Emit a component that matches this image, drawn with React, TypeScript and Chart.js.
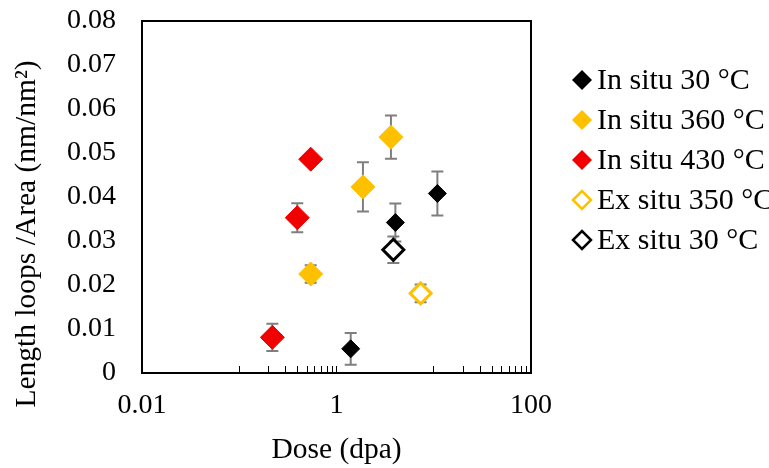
import React, { useEffect, useRef } from 'react';
import { Chart, registerables } from 'chart.js';

Chart.register(...registerables);

// ---- Data ----
const seriesLabels = ['In situ 30 °C', 'In situ 360 °C', 'In situ 430 °C', 'Ex situ 350 °C', 'Ex situ 30 °C'];

const inSitu30Dose = [1.4, 4.03, 10.9];
const inSitu30Value = [0.0055, 0.0342, 0.0408];
const inSitu30Err = [0.0036, 0.0043, 0.005];

const inSitu360Dose = [0.543, 1.87, 3.63];
const inSitu360Value = [0.0225, 0.0423, 0.0536];
const inSitu360Err = [0.002, 0.0056, 0.0049];

const inSitu430Dose = [0.219, 0.395, 0.543];
const inSitu430Value = [0.0081, 0.0353, 0.0486];
const inSitu430Err = [0.0031, 0.0033, 0];

const exSitu350Dose = [7.33];
const exSitu350Value = [0.0181];
const exSitu350Err = [0.002];

const exSitu30Dose = [3.84];
const exSitu30Value = [0.028];
const exSitu30Err = [0.003];

const xTickValues = [0.01, 0.1, 0.2, 0.3, 0.4, 0.5, 0.6, 0.7, 0.8, 0.9, 1, 10, 20, 30, 40, 50, 60, 70, 80, 90, 100];
const xLabelledValues = [0.01, 1, 100];
const xTickLabels = ['0.01', '1', '100'];
const yMin = 0;
const yMax = 0.08;
const yStep = 0.01;

const xTitle = 'Dose (dpa)';
const yTitle = 'Length loops /Area (nm/nm²)';

const FONT = '"Liberation Serif", "Times New Roman", serif';
const YELLOW = '#FFC000';
const RED = '#F00000';
const BLACK = '#000000';
const ERR = '#7F7F7F';

function pts(xs: number[], ys: number[]) {
  return xs.map((x, i) => ({ x, y: ys[i] }));
}

const errorBarPlugin = {
  id: 'errorBars',
  beforeDatasetsDraw(chart: any) {
    const { ctx, chartArea, scales } = chart;
    const xs = scales.x;
    const ys = scales.y;
    ctx.save();
    // frame
    ctx.strokeStyle = '#000';
    ctx.lineWidth = 2;
    ctx.strokeRect(chartArea.left, chartArea.top, chartArea.right - chartArea.left, chartArea.bottom - chartArea.top);
    // error bars
    ctx.strokeStyle = ERR;
    ctx.lineWidth = 2;
    chart.data.datasets.forEach((ds: any) => {
      const errs: number[] = ds.errors || [];
      ds.data.forEach((p: any, i: number) => {
        const e = errs[i] || 0;
        if (!e) return;
        const px = xs.getPixelForValue(p.x);
        const top = ys.getPixelForValue(p.y + e);
        const bot = ys.getPixelForValue(p.y - e);
        ctx.beginPath();
        ctx.moveTo(px, top);
        ctx.lineTo(px, bot);
        ctx.moveTo(px - 6, top);
        ctx.lineTo(px + 6, top);
        ctx.moveTo(px - 6, bot);
        ctx.lineTo(px + 6, bot);
        ctx.stroke();
      });
    });
    ctx.restore();
  },
};

const legendAndTitlePlugin = {
  id: 'customLegend',
  afterDraw(chart: any) {
    const { ctx } = chart;
    ctx.save();
    // y axis title
    ctx.translate(27, 234);
    ctx.rotate(-Math.PI / 2);
    ctx.font = `29.5px ${FONT}`;
    ctx.fillStyle = '#000';
    ctx.textAlign = 'center';
    ctx.textBaseline = 'middle';
    ctx.fillText(yTitle, 0, 0);
    ctx.restore();

    ctx.save();
    ctx.font = `30px ${FONT}`;
    ctx.textAlign = 'left';
    ctx.textBaseline = 'middle';
    chart.data.datasets.forEach((ds: any, i: number) => {
      const cy = 80 + i * 40;
      const cx = 582;
      const open = ds.backgroundColor === '#FFFFFF';
      const r = open ? 9 : 10;
      ctx.beginPath();
      ctx.moveTo(cx - r, cy);
      ctx.lineTo(cx, cy - r);
      ctx.lineTo(cx + r, cy);
      ctx.lineTo(cx, cy + r);
      ctx.closePath();
      if (open) {
        ctx.fillStyle = '#FFFFFF';
        ctx.fill();
        ctx.strokeStyle = ds.borderColor;
        ctx.lineWidth = 2.5;
        ctx.stroke();
      } else {
        ctx.fillStyle = ds.backgroundColor;
        ctx.fill();
      }
      ctx.fillStyle = '#000';
      ctx.fillText(ds.label, 597, cy + 1);
    });
    ctx.restore();
  },
};

export default function App() {
  const canvasRef = useRef<HTMLCanvasElement | null>(null);

  useEffect(() => {
    if (!canvasRef.current) return;
    Chart.defaults.font.family = FONT;
    Chart.defaults.font.size = 28;
    Chart.defaults.color = '#000';

    const chart = new Chart(canvasRef.current, {
      type: 'scatter',
      data: {
        datasets: [
          {
            label: seriesLabels[0],
            data: pts(inSitu30Dose, inSitu30Value),
            errors: inSitu30Err,
            backgroundColor: BLACK,
            borderColor: BLACK,
            borderWidth: 1,
            pointStyle: 'rectRot',
            pointRadius: 9,
          } as any,
          {
            label: seriesLabels[1],
            data: pts(inSitu360Dose, inSitu360Value),
            errors: inSitu360Err,
            backgroundColor: YELLOW,
            borderColor: YELLOW,
            borderWidth: 1,
            pointStyle: 'rectRot',
            pointRadius: 12,
          } as any,
          {
            label: seriesLabels[2],
            data: pts(inSitu430Dose, inSitu430Value),
            errors: inSitu430Err,
            backgroundColor: RED,
            borderColor: RED,
            borderWidth: 1,
            pointStyle: 'rectRot',
            pointRadius: 12,
          } as any,
          {
            label: seriesLabels[3],
            data: pts(exSitu350Dose, exSitu350Value),
            errors: exSitu350Err,
            backgroundColor: '#FFFFFF',
            borderColor: YELLOW,
            borderWidth: 3,
            pointStyle: 'rectRot',
            pointRadius: 10.5,
          } as any,
          {
            label: seriesLabels[4],
            data: pts(exSitu30Dose, exSitu30Value),
            errors: exSitu30Err,
            backgroundColor: '#FFFFFF',
            borderColor: BLACK,
            borderWidth: 3,
            pointStyle: 'rectRot',
            pointRadius: 10.5,
          } as any,
        ],
      },
      options: {
        responsive: false,
        animation: false,
        events: [],
        layout: { padding: { top: 21, right: 238, bottom: 0, left: 0 } },
        plugins: {
          legend: { display: false },
          tooltip: { enabled: false },
        },
        scales: {
          x: {
            type: 'logarithmic',
            position: 'bottom',
            min: 0.01,
            max: 100,
            afterBuildTicks: (scale: any) => {
              scale.ticks = xTickValues.map((v) => ({ value: v }));
            },
            afterFit: (scale: any) => {
              scale.height = 95;
            },
            ticks: {
              autoSkip: false,
              maxRotation: 0,
              minRotation: 0,
              padding: 23,
              color: '#000',
              font: { size: 28, family: FONT },
              callback: (v: any) => {
                const i = xLabelledValues.indexOf(Number(v));
                return i >= 0 ? xTickLabels[i] : '';
              },
            },
            grid: {
              display: true,
              drawOnChartArea: false,
              drawTicks: true,
              tickLength: -7,
              color: '#000',
              lineWidth: 1,
            },
            border: { display: false },
            title: {
              display: true,
              text: xTitle,
              color: '#000',
              font: { size: 29.5, family: FONT },
              padding: { top: 0, bottom: 0 },
            },
          },
          y: {
            type: 'linear',
            min: yMin,
            max: yMax,
            afterFit: (scale: any) => {
              scale.width = 142;
            },
            ticks: {
              stepSize: yStep,
              padding: 0,
              color: '#000',
              font: { size: 28, family: FONT },
              callback: (v: any) => (Number(v) === 0 ? '0' : Number(v).toFixed(2)),
            },
            grid: { display: false, drawTicks: true, tickLength: 26 },
            border: { display: false },
          },
        },
      } as any,
      plugins: [errorBarPlugin, legendAndTitlePlugin],
    });

    return () => chart.destroy();
  }, []);

  return (
    <canvas
      ref={canvasRef}
      width={769}
      height={468}
      style={{ display: 'block', position: 'absolute', left: 0, top: 0, width: 769, height: 468 }}
    />
  );
}
